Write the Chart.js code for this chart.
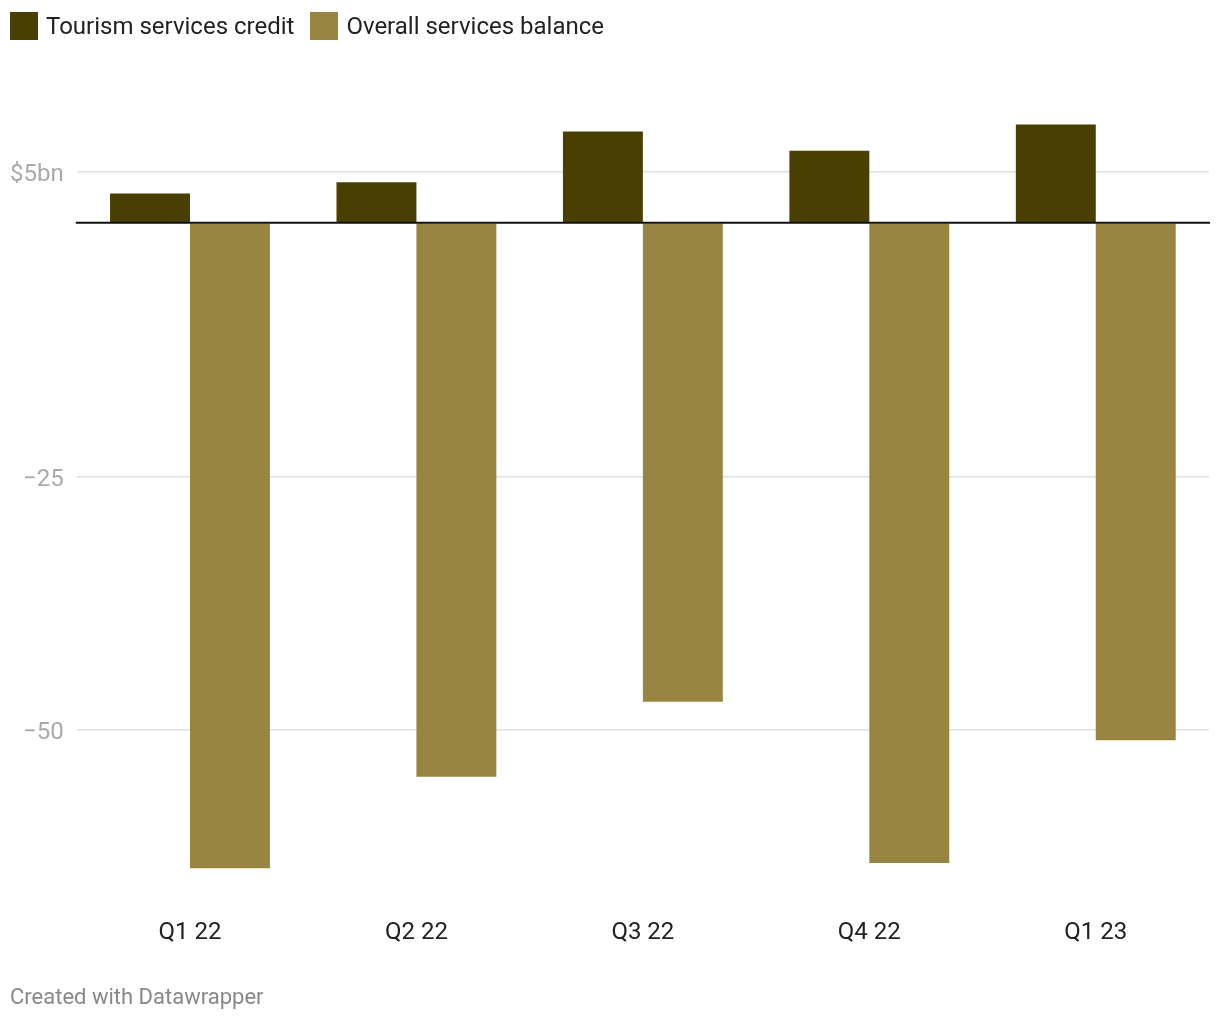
<!DOCTYPE html>
<html>
<head>
<meta charset="utf-8">
<script src="https://cdn.jsdelivr.net/npm/chart.js@4"></script>
<style>
  html, body { margin: 0; padding: 0; background: #fff; font-family: Roboto, sans-serif; }
  body { width: 1220px; height: 1020px; position: relative; overflow: hidden; }
  #legend { position: absolute; left: 10px; top: 12px; display: flex; align-items: center; font-size: 24px; color: #222; }
  .key { display: flex; align-items: center; margin-right: 16px; }
  .swatch { width: 28px; height: 28px; margin-right: 8px; }
  #wrap { position: absolute; left: 0; top: 0; width: 1220px; height: 1020px; }
  #footer { position: absolute; left: 10px; top: 984px; font-size: 22px; color: #888; }
</style>
</head>
<body>
<div id="wrap"><canvas id="chart"></canvas></div>
<div id="legend"></div>
<div id="footer">Created with Datawrapper</div>
<script>
const quarters = ["Q1 22", "Q2 22", "Q3 22", "Q4 22", "Q1 23"];
const tourismCredit = [2.9, 4.0, 9.0, 7.1, 9.7];
const servicesBalance = [-63.6, -54.6, -47.2, -63.1, -51.0];
const yTicks = [5, 0, -25, -50];
const seriesNames = ["Tourism services credit", "Overall services balance"];
const seriesColors = ["#4a3f03", "#978541"];

// Legend in the Datawrapper style
const legend = document.getElementById('legend');
seriesNames.forEach((name, i) => {
  const key = document.createElement('div');
  key.className = 'key';
  key.innerHTML = `<span class="swatch" style="background:${seriesColors[i]}"></span><span>${name}</span>`;
  legend.appendChild(key);
});

function tickLabel(v){
  if (v === 5) return '$5bn';
  if (v === 0) return '';
  return '\u2212' + Math.abs(v);
}

// black baseline drawn over the bars
const zeroLine = {
  id: 'zeroLine',
  afterDatasetsDraw(chart){
    const { ctx, chartArea, scales } = chart;
    const y = scales.y.getPixelForValue(0);
    ctx.save();
    ctx.strokeStyle = '#111';
    ctx.lineWidth = 2;
    ctx.beginPath();
    ctx.moveTo(chartArea.left - 1, y);
    ctx.lineTo(chartArea.right + 1, y);
    ctx.stroke();
    ctx.restore();
  }
};

new Chart(document.getElementById('chart'), {
  type: 'bar',
  data: {
    labels: quarters,
    datasets: [
      { label: seriesNames[0], data: tourismCredit, backgroundColor: seriesColors[0] },
      { label: seriesNames[1], data: servicesBalance, backgroundColor: seriesColors[1] }
    ]
  },
  plugins: [zeroLine],
  options: {
    responsive: true,
    maintainAspectRatio: false,
    animation: false,
    layout: { padding: { top: 70.6, right: 11, bottom: 0, left: 0 } },
    datasets: { bar: { categoryPercentage: 0.706, barPercentage: 1.0 } },
    plugins: { legend: { display: false }, tooltip: { enabled: false } },
    scales: {
      x: {
        afterFit: s => { s.height = 137.6; },
        grid: { display: false, drawTicks: false },
        border: { display: false },
        ticks: { color: '#222', font: { family: 'Roboto', size: 24 }, padding: 36 }
      },
      y: {
        min: -65,
        max: 15,
        afterFit: s => { s.width = 76.75; },
        afterBuildTicks: s => { s.ticks = yTicks.map(v => ({ value: v })); },
        grid: {
          drawTicks: false,
          color: c => c.tick && c.tick.value === 0 ? 'rgba(0,0,0,0)' : '#e0e0e0',
          lineWidth: 1.5
        },
        border: { display: false },
        ticks: {
          color: '#aaa',
          font: { family: 'Roboto', size: 24 },
          padding: 13,
          labelOffset: 3,
          callback: v => tickLabel(v)
        }
      }
    }
  }
});
</script>
</body>
</html>
